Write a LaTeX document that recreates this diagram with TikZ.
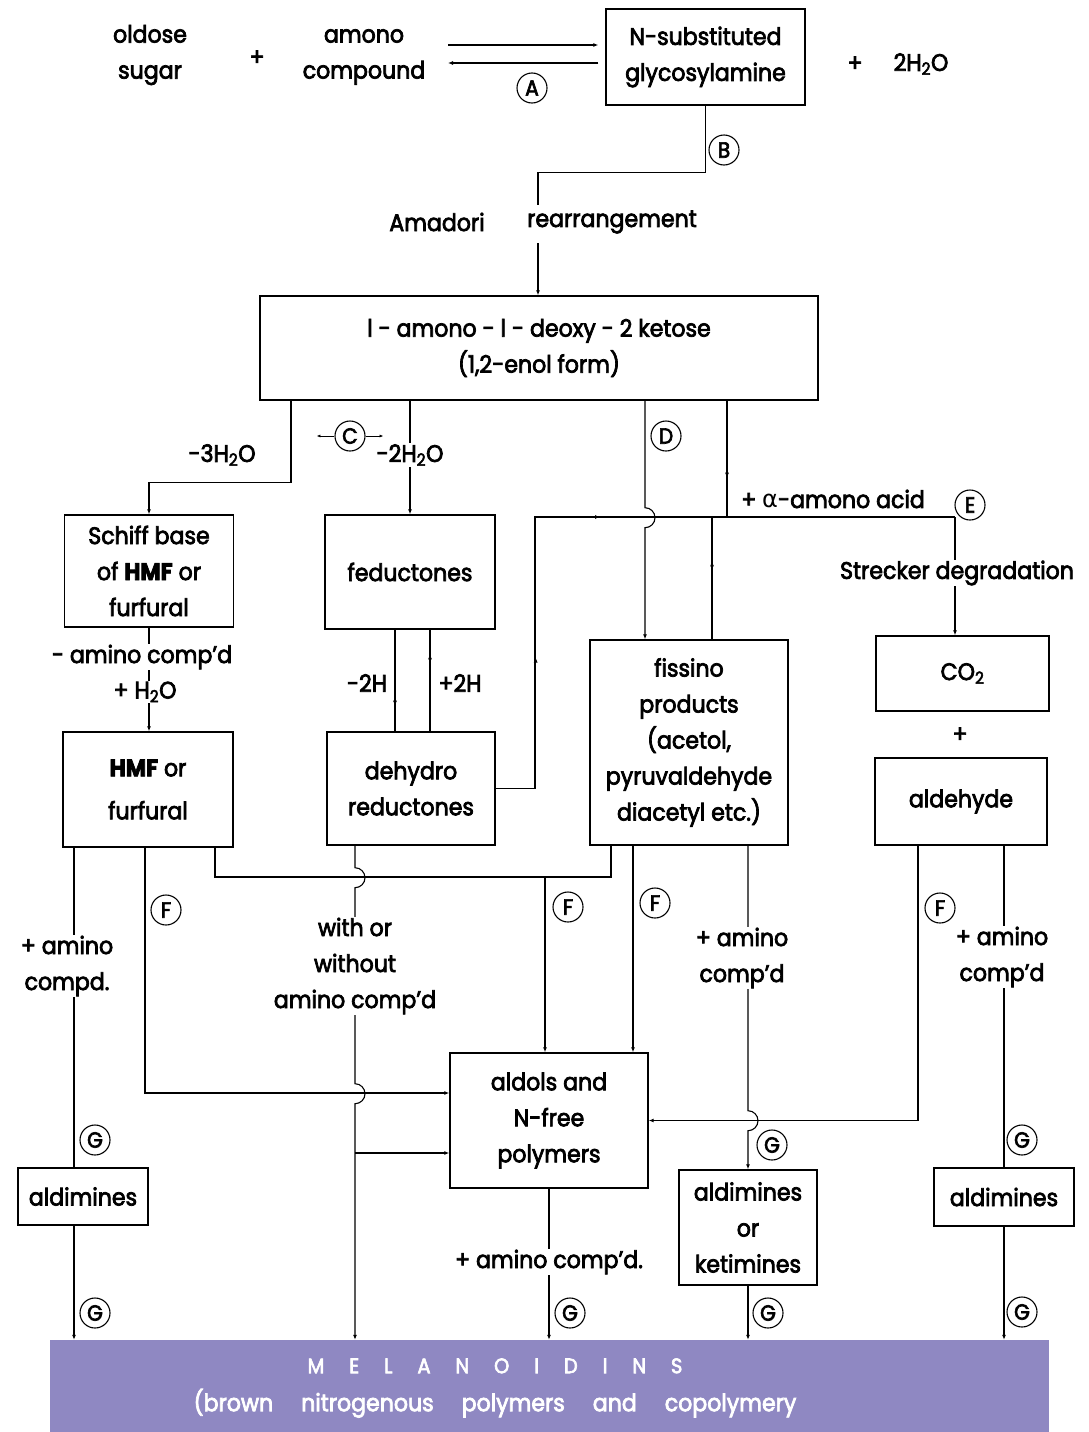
\documentclass[tikz,border=0pt]{standalone}
\usepackage{fontspec}
\setmainfont{Poppins}[FakeStretch=0.92,FakeBold=3]
\newfontfamily\greekfont{DejaVu Sans}
\usetikzlibrary{arrows.meta,positioning}

\definecolor{melano}{RGB}{143,136,194}
\newcommand{\lsp}{\hspace{25pt}}
\newcommand{\wsp}{\hspace{28pt}}

\tikzset{
  box/.style={draw,line width=1.4pt,fill=white,align=center,inner sep=0pt},
  txt/.style={align=center,inner sep=1pt},
  lbl/.style={fill=white,align=center,inner sep=1pt},
  lett/.style={circle,draw,fill=white,line width=1.1pt,inner sep=0pt,minimum size=30pt,font=\fontsize{22}{22}\selectfont},
  link/.style={line width=1.1pt},
  flow/.style={link,-{Latex[length=5pt,width=4pt]}},
  tinyflow/.style={line width=0.8pt,-{Latex[length=4pt,width=3pt]}},
}

\begin{document}
\begin{tikzpicture}[x=1pt,y=-1pt,font=\fontsize{24}{36}\selectfont]
\useasboundingbox (0,0) rectangle (1088,1432);

% boxes
\node[box,minimum width=199pt,minimum height=96pt] (glyco) at (705.5,57) {N-substituted\\glycosylamine};
\node[box,minimum width=558pt,minimum height=104pt] (ketose) at (539,348) {l - amono - l - deoxy - 2 ketose\\(1,2-enol form)};
\node[box,minimum width=169pt,minimum height=112pt] (schiff) at (149,571) {Schiff base\\of \textbf{HMF} or\\furfural};
\node[box,minimum width=170pt,minimum height=114pt] (feduct) at (410,572) {feductones};
\node[box,minimum width=170pt,minimum height=115pt] (hmf) at (148,789.5) {\textbf{HMF} or\\[7pt]furfural};
\node[box,minimum width=168pt,minimum height=113pt] (dehyd) at (411,788.5) {dehydro\\reductones};
\node[box,minimum width=198pt,minimum height=205pt] (fiss) at (689,742.5) {fissino\\products\\(acetol,\\pyruvaldehyde\\diacetyl etc.)};
\node[box,minimum width=173pt,minimum height=75pt] (co2) at (962.5,673.5) {CO\textsubscript{2}};
\node[box,minimum width=172pt,minimum height=87pt] (aldeh) at (961,801.5) {aldehyde};
\node[box,minimum width=198pt,minimum height=135pt] (aldol) at (549,1120.5) {aldols and\\N-free\\polymers};
\node[box,minimum width=130pt,minimum height=57pt] (ald1) at (83,1196.5) {aldimines};
\node[box,minimum width=138pt,minimum height=115pt] (aldket) at (748,1227.5) {aldimines\\or\\ketimines};
\node[box,minimum width=140pt,minimum height=58pt] (ald2) at (1004,1197) {aldimines};
\node[fill=melano,inner sep=0pt,minimum width=999pt,minimum height=92pt] (melano) at (549.5,1386) {};
\node[text=white,align=center,inner sep=0pt] (meltxt) at (495,1388)
  {{\fontsize{21}{24}\selectfont M\lsp E\lsp L\lsp A\lsp N\lsp O\lsp I\lsp D\lsp I\lsp N\lsp S}\\[2pt]
   (brown\wsp nitrogenous\wsp polymers\wsp and\wsp copolymery};

% top line
\node[txt] (sugar) at (150,55) {oldose\\sugar};
\node[txt] (plusa) at (257,58) {+};
\node[txt] (amino) at (364,57) {amono\\compound};
\node[txt] (plusb) at (855,64) {+};
\node[txt] (water) at (921,64) {2H\textsubscript{2}O};
\coordinate (eqL) at (448,45);
\coordinate (eqR) at (448,63);
\draw[flow,shorten >=7pt] (eqL) -- (eqL -| glyco.west);
\draw[flow,shorten <=7pt] (eqR -| glyco.west) -- (eqR);

% Amadori
\coordinate (amadT) at (538,205);
\coordinate (amadB) at (538,243);
\draw[link] (glyco.south) -- ++(0,67) -| (amadT);
\draw[flow] (amadB) -- (amadB |- ketose.north);

% ketose branches
\draw[flow] ([xshift=-248pt]ketose.south) -- ++(0,82) -| (schiff.north);
\draw[flow] (ketose.south -| feduct.north) -- (feduct.north);
\coordinate (dTop) at ([xshift=106pt]ketose.south);
\draw[flow] (dTop) -- ++(0,107) arc[start angle=90,end angle=-90,radius=10pt] -- (dTop |- fiss.north);
\coordinate (aTop) at ([xshift=188pt]ketose.south);
\coordinate (ejoin) at (955,517);
\coordinate (dcorner) at (535,517);
\coordinate (fup) at ([xshift=23pt]fiss.north);
\draw[link] (aTop) -- (aTop |- ejoin);
\draw[flow] (aTop) -- ++(0,77);
\draw[link] (dehyd.east) -| (dcorner) -- (ejoin);
\draw[flow] (dehyd.east) -- ++(40,0) -- ++(0,-131);
\draw[flow] (dcorner) -- ++(65,0);
\draw[link] (fup) -- (fup |- ejoin);
\draw[flow] (fup) -- ++(0,-78);
\draw[flow] (ejoin) -- (ejoin |- co2.north);

% reductones
\draw[link] ([xshift=-15pt]feduct.south) -- ([xshift=-16pt]dehyd.north);
\draw[flow] ([xshift=-15pt]feduct.south) -- ++(0,76);
\draw[link] ([xshift=20pt]feduct.south) -- ([xshift=19pt]dehyd.north);
\draw[flow] ([xshift=19pt]dehyd.north) -- ++(0,-77);
\draw[flow] (schiff.south) -- (schiff.south |- hmf.north);

% lower part
\coordinate (hx1) at ([xshift=-74pt]hmf.south);
\draw[link] (hx1) -- (hx1 |- ald1.north);
\draw[flow] (hx1 |- ald1.south) -- (hx1 |- melano.north);
\draw[flow] ([xshift=-3pt]hmf.south) |- ([yshift=27.5pt]aldol.west);
\coordinate (fjoin) at (611,877);
\coordinate (fdrop) at (545,877);
\draw[link] ([xshift=67pt]hmf.south) |- (fjoin) -- (fjoin |- fiss.south);
\draw[flow] (fdrop) -- (fdrop |- aldol.north);
\coordinate (wx) at ([xshift=-56pt]dehyd.south);
\coordinate (wjoin) at (355,1153);
\draw[flow] (wx) -- ++(0,22) arc[start angle=90,end angle=-90,radius=10pt]
  -- ++(0,196) arc[start angle=90,end angle=-90,radius=10pt] -- (wx |- melano.north);
\draw[flow] (wjoin) -- (wjoin -| aldol.west);
\coordinate (fx) at ([xshift=-56pt]fiss.south);
\draw[flow] (fx) -- (fx |- aldol.north);
\coordinate (kx) at (aldket.north |- fiss.south);
\draw[flow] (kx) -- ++(0,265) arc[start angle=90,end angle=-90,radius=10pt] -- (aldket.north);
\draw[flow] ([xshift=-43pt]aldeh.south) |- (aldol.east);
\coordinate (ax2) at (ald2.north |- aldeh.south);
\draw[link] (ax2) -- (ald2.north);
\draw[flow] (ald2.south) -- (ald2.south |- melano.north);
\draw[flow] (aldol.south) -- (aldol.south |- melano.north);
\draw[flow] (aldket.south) -- (aldket.south |- melano.north);

% labels
\node[txt] (amad) at (437,222) {Amadori};
\node[txt] (rearr) at (612,222) {rearrangement};
\node[txt] (m3h) at (222,455) {-3H\textsubscript{2}O};
\node[lbl] (m2h) at (410,455) {-2H\textsubscript{2}O};
\node[txt] (acid) at (833,499) {+ {\greekfont α}-amono acid};
\node[lbl] (streck) at (957,573) {Strecker degradation};
\node[lbl] (mam) at (142,657) {- amino comp’d};
\node[lbl] (ph2o) at (145,692) {+ H\textsubscript{2}O};
\node[txt] (m2hh) at (367,683) {-2H};
\node[txt] (p2hh) at (460,683) {+2H};
\node[txt] (plusc) at (960,735) {+};
\node[lbl] (am1) at (67,966) {+ amino\\compd.};
\node[lbl] (wwo) at (355,966) {with or\\without\\amino comp’d};
\node[lbl] (am2) at (742,958) {+ amino\\comp’d};
\node[lbl] (am3) at (1002,957) {+ amino\\comp’d};
\node[lbl] (am4) at (549,1262) {+ amino comp’d.};

% step letters
\node[lett] (lA) at (532,88) {A};
\node[lett] (lB) at (724,150) {B};
\node[lett] (lC) at (350,436) {C};
\draw[tinyflow] (lC.west) -- ++(-18,0);
\draw[tinyflow] (lC.east) -- ++(18,0);
\node[lett] (lD) at (666,436) {D};
\node[lett] (lE) at (970,505) {E};
\node[lett] (lF1) at (166,910) {F};
\node[lett] (lF2) at (568,907) {F};
\node[lett] (lF3) at (655,903) {F};
\node[lett] (lF4) at (940,908) {F};
\node[lett] (lG1) at (95,1140) {G};
\node[lett] (lG2) at (95,1313) {G};
\node[lett] (lG3) at (772,1145) {G};
\node[lett] (lG4) at (570,1313) {G};
\node[lett] (lG5) at (768,1313) {G};
\node[lett] (lG6) at (1022,1140) {G};
\node[lett] (lG7) at (1022,1312) {G};
\end{tikzpicture}
\end{document}
